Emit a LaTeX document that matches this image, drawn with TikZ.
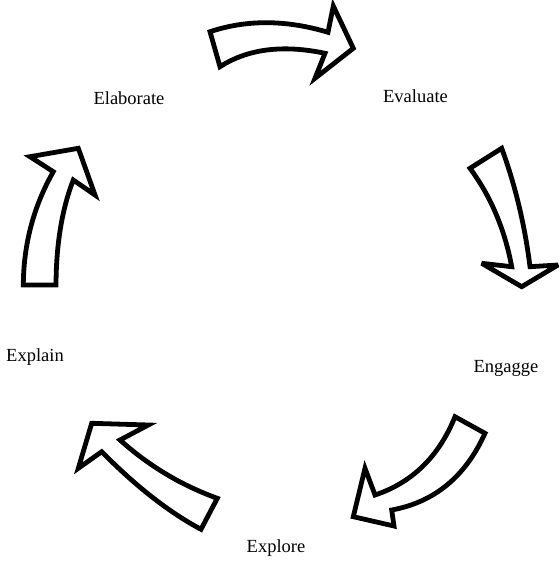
\documentclass[tikz,border=0pt]{standalone}
\usepackage{fontspec}
\setmainfont{Liberation Serif}
\begin{document}
\begin{tikzpicture}[x=1pt,y=-1pt,
  bigarrow/.style={draw=black,fill=white,line width=4.8pt,line join=miter,miter limit=4},
  lbl/.style={inner sep=0pt,anchor=base,font=\fontsize{18.5}{22}\selectfont}]
\useasboundingbox (0,0) rectangle (560,563);
% labels
\node[lbl] (elaborate) at (129,104) {Elaborate};
\node[lbl] (evaluate) at (415.5,102) {Evaluate};
\node[lbl] (engage) at (506,372) {Engagge};
\node[lbl] (explain) at (35,361) {Explain};
\node[lbl] (explore) at (276,552) {Explore};
% top arrow (Elaborate -> Evaluate)
\draw[bigarrow] (210,31.7) .. controls (246.7,19.5) and (286,19.7) .. (328,32.3)
  -- (333.3,6) -- (353.3,48.3) -- (315,78.3) -- (325,53.3)
  .. controls (282.7,44.4) and (247.7,48.9) .. (220,66.7) -- cycle;
% right arrow (Evaluate -> Engage)
\draw[bigarrow] (470,168.3) -- (501.7,148.3)
  .. controls (515.4,185.8) and (524.8,225.2) .. (530,266.7)
  -- (558,265) -- (521.7,286.7) -- (481.7,263.3) -- (511.7,266.7)
  .. controls (504.7,229.2) and (490.8,196.4) .. (470,168.3) -- cycle;
% bottom-right arrow (Engage -> Explore)
\draw[bigarrow] (455,416.7) -- (485,433.3)
  .. controls (465.4,476.7) and (434.3,502.2) .. (391.7,510)
  -- (394,526) -- (353.3,516.7) -- (365,468.3) -- (375,495)
  .. controls (412.3,482.5) and (439,456.4) .. (455,416.7) -- cycle;
% bottom-left arrow (Explore -> Explain)
\draw[bigarrow] (91.7,423.3) -- (148.3,425) -- (120,440)
  .. controls (148.9,465.9) and (181.3,485.3) .. (217.3,498.3)
  -- (201,529.3)
  .. controls (168.8,512.1) and (135.7,486.2) .. (101.7,451.7)
  -- (78.3,468.3) -- cycle;
% left arrow (Explain -> Elaborate)
\draw[bigarrow] (23.3,285)
  .. controls (23.6,244.1) and (33.6,206.3) .. (53.3,171.7)
  -- (30,156.7) -- (78.3,148.3) -- (95,195) -- (73.3,180)
  .. controls (62,209) and (56.2,244) .. (56,285) -- cycle;
\end{tikzpicture}
\end{document}
